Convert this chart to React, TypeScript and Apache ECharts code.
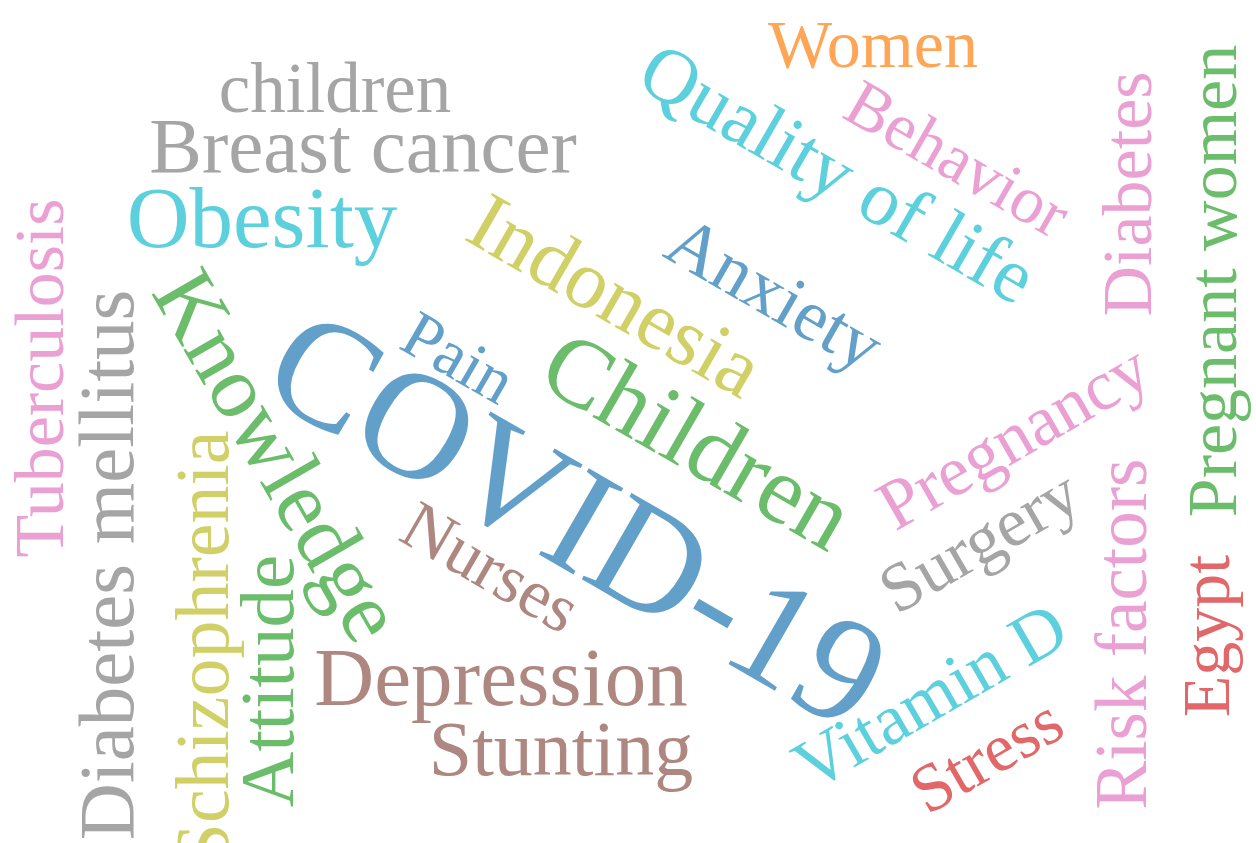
import React, { useEffect, useRef } from "react";
import * as echarts from "echarts";

// ---- data ----
const words: string[] = [
  "COVID-19", "Children", "Knowledge", "Indonesia", "Quality of life", "Breast cancer",
  "Obesity", "Depression", "Diabetes mellitus", "Stunting", "Schizophrenia", "Risk factors",
  "children", "Anxiety", "Attitude", "Tuberculosis", "Diabetes", "Pregnant women",
  "Women", "Vitamin D", "Egypt", "Nurses", "Pregnancy", "Behavior", "Pain", "Surgery", "Stress",
];
const weights: number[] = [
  152, 97, 89, 83, 78, 79,
  87, 83, 79, 78, 76, 73,
  71, 73, 77, 70, 70, 70,
  68, 72, 68, 69, 71, 67, 66, 69, 68,
];

// ---- layout (pixel positions of each word centre, rotation, colour) ----
const layout: { x: number; y: number; rot: number; color: string }[] = [
  { x: 578, y: 518, rot: -30, color: "#62a0ca" },
  { x: 698, y: 440, rot: -30, color: "#6bbd6b" },
  { x: 279, y: 455, rot: -60, color: "#6bbd6b" },
  { x: 616, y: 295, rot: -30, color: "#d0d066" },
  { x: 838, y: 173, rot: -30, color: "#5dd0dd" },
  { x: 363, y: 145, rot: 0, color: "#a5a5a5" },
  { x: 262, y: 217, rot: 0, color: "#5dd0dd" },
  { x: 501, y: 677, rot: 0, color: "#ae8880" },
  { x: 106, y: 565, rot: 90, color: "#a5a5a5" },
  { x: 561, y: 748, rot: 0, color: "#ae8880" },
  { x: 202, y: 648, rot: 90, color: "#d0d066" },
  { x: 1121, y: 634, rot: 90, color: "#eba0d4" },
  { x: 335, y: 88, rot: 0, color: "#a5a5a5" },
  { x: 775, y: 293, rot: -30, color: "#62a0ca" },
  { x: 267, y: 681, rot: 90, color: "#6bbd6b" },
  { x: 39, y: 378, rot: 90, color: "#eba0d4" },
  { x: 1127, y: 194, rot: 90, color: "#eba0d4" },
  { x: 1212, y: 281, rot: 90, color: "#6bbd6b" },
  { x: 873, y: 44, rot: 0, color: "#ffa556" },
  { x: 930, y: 696, rot: 30, color: "#5dd0dd" },
  { x: 1206, y: 636, rot: 90, color: "#e26768" },
  { x: 491, y: 567, rot: -30, color: "#ae8880" },
  { x: 1013, y: 436, rot: 30, color: "#eba0d4" },
  { x: 958, y: 158, rot: -30, color: "#eba0d4" },
  { x: 459, y: 357, rot: -30, color: "#62a0ca" },
  { x: 979, y: 541, rot: 30, color: "#a5a5a5" },
  { x: 986, y: 755, rot: 30, color: "#e26768" },
];

const W = 1256;
const H = 843;
const FONT = "'Liberation Serif', 'Times New Roman', serif";
const fontSizeOf = (w: number) => w;

export default function App() {
  const ref = useRef<HTMLDivElement>(null);
  useEffect(() => {
    document.body.style.margin = "0";
    if (!ref.current) return;
    const chart = echarts.init(ref.current, undefined, { renderer: "svg" });
    const data = words.map((w, i) => ({
      name: w,
      value: [layout[i].x, layout[i].y, weights[i]],
      label: {
        fontSize: fontSizeOf(weights[i]),
        rotate: layout[i].rot,
        color: layout[i].color,
      },
    }));
    chart.setOption({
      animation: false,
      backgroundColor: "#ffffff",
      grid: { left: 0, right: 0, top: 0, bottom: 0 },
      xAxis: { type: "value", min: 0, max: W, show: false },
      yAxis: { type: "value", min: 0, max: H, inverse: true, show: false },
      series: [
        {
          type: "scatter",
          symbolSize: 1,
          itemStyle: { color: "rgba(0,0,0,0)", opacity: 1 },
          label: {
            show: true,
            position: "inside",
            formatter: "{b}",
            fontFamily: FONT,
            align: "center",
            verticalAlign: "middle",
            opacity: 1,
          },
          emphasis: { disabled: true },
          data,
        },
      ],
    });
    return () => chart.dispose();
  }, []);
  return (
    <div
      ref={ref}
      style={{ position: "fixed", left: 0, top: 0, width: W, height: H, background: "#fff" }}
    />
  );
}
